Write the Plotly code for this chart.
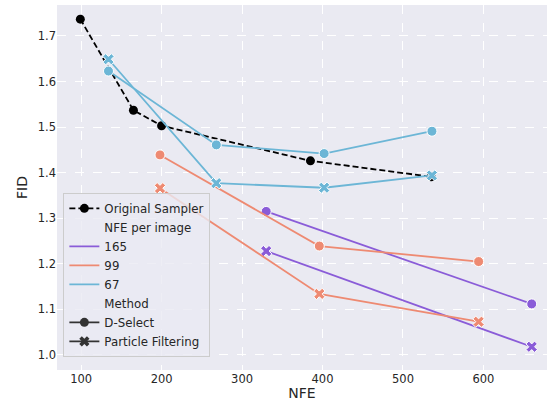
import plotly.graph_objects as go

# Original sampler
orig_nfe = [99, 165, 200, 385, 535]
orig_fid = [1.737, 1.537, 1.503, 1.426, 1.391]

# NFE per image groups
groups = ["165", "99", "67"]
colors = {"165": "#8a5cd8", "99": "#ee8a72", "67": "#6cb6d6"}

dsel_nfe = {"165": [330, 660], "99": [198, 396, 594], "67": [134, 268, 402, 536]}
dsel_fid = {"165": [1.315, 1.112], "99": [1.439, 1.239, 1.205], "67": [1.623, 1.461, 1.442, 1.491]}
pf_nfe = {"165": [330, 660], "99": [198, 396, 594], "67": [134, 268, 402, 536]}
pf_fid = {"165": [1.228, 1.018], "99": [1.366, 1.134, 1.073], "67": [1.649, 1.377, 1.367, 1.394]}

fig = go.Figure()

fig.add_trace(go.Scatter(x=orig_nfe, y=orig_fid, mode="lines+markers",
                         line=dict(color="black", width=1.8, dash="6px,3px"),
                         marker=dict(symbol="circle", size=9, color="black"),
                         name="Original Sampler", showlegend=True))

for g in groups:
    fig.add_trace(go.Scatter(x=dsel_nfe[g], y=dsel_fid[g], mode="lines+markers",
                             line=dict(color=colors[g], width=1.8),
                             marker=dict(symbol="circle", size=10, color=colors[g],
                                         line=dict(color="white", width=1)),
                             showlegend=False))
    fig.add_trace(go.Scatter(x=pf_nfe[g], y=pf_fid[g], mode="lines+markers",
                             line=dict(color=colors[g], width=1.8),
                             marker=dict(symbol="x", size=10, color=colors[g],
                                         line=dict(color="white", width=1)),
                             showlegend=False))

# legend-only entries
def leg(name, color="rgba(0,0,0,0)", symbol=None, mode="lines"):
    m = dict(symbol=symbol, size=9, color=color) if symbol else None
    fig.add_trace(go.Scatter(x=[None], y=[None], mode=mode, name=name,
                             line=dict(color=color, width=1.8),
                             marker=m, showlegend=True))

leg("NFE per image")
for g in groups:
    leg(g, colors[g])
leg("Method")
leg("D-Select", "#333333", "circle", "lines+markers")
leg("Particle Filtering", "#333333", "x", "lines+markers")

fig.update_layout(
    width=550, height=402,
    margin=dict(l=57, r=3, t=5, b=32),
    paper_bgcolor="white", plot_bgcolor="#EAEAF2",
    font=dict(family="DejaVu Sans", size=11.5, color="#262626"),
    legend=dict(x=0.013, y=0.036, xanchor="left", yanchor="bottom",
                bgcolor="rgba(234,234,242,0.8)", bordercolor="#cccccc", borderwidth=1,
                font=dict(size=11.8), tracegroupgap=0, itemwidth=30),
    xaxis=dict(title=dict(text="NFE", standoff=2), range=[70, 679], tickvals=[100, 200, 300, 400, 500, 600],
               automargin=False,
               showgrid=True, gridcolor="white", griddash="dash", gridwidth=1,
               zeroline=False, showline=False, ticks="", ticklen=0),
    yaxis=dict(title=dict(text="FID", standoff=6), range=[0.967, 1.768],
               automargin=False,
               tickvals=[1.0, 1.1, 1.2, 1.3, 1.4, 1.5, 1.6, 1.7],
               ticktext=["1.0", "1.1", "1.2", "1.3", "1.4", "1.5", "1.6", "1.7"],
               showgrid=True, gridcolor="white", griddash="dash", gridwidth=1,
               zeroline=False, showline=False, ticks=""),
)

fig.write_html("out.html", config={"displayModeBar": False},
               post_script="document.body.style.margin='0';")
